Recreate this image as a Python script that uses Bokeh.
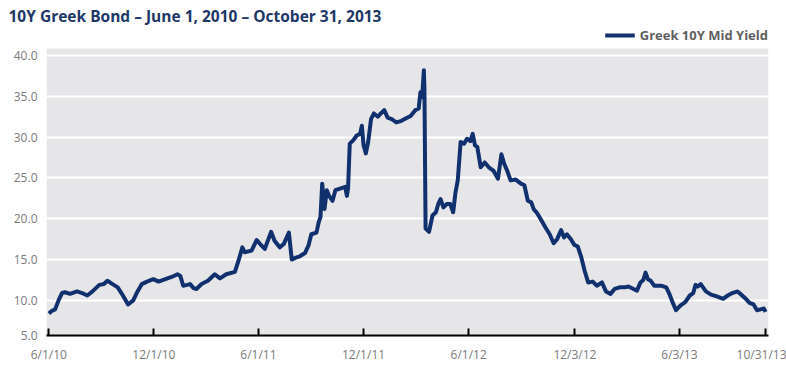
import pandas as pd
from bokeh.plotting import figure
from bokeh.models import (Range1d, FixedTicker, CustomJSTickFormatter, Legend, LegendItem,
                          BoxAnnotation)
from bokeh.embed import file_html
from bokeh.resources import INLINE

title_text = "10Y Greek Bond \u2013 June 1, 2010 \u2013 October 31, 2013"
series_name = "Greek 10Y Mid Yield"

dates = [
    "2010-06-01", "2010-06-06", "2010-06-12", "2010-06-18", "2010-06-24", "2010-06-29",
    "2010-07-08", "2010-07-20", "2010-07-29", "2010-08-07", "2010-08-16", "2010-08-28",
    "2010-09-05", "2010-09-11", "2010-09-20", "2010-09-29", "2010-10-08", "2010-10-17",
    "2010-10-26", "2010-11-01", "2010-11-10", "2010-11-19", "2010-11-30", "2010-12-09",
    "2010-12-21", "2011-01-02", "2011-01-11", "2011-01-16", "2011-01-21", "2011-01-28",
    "2011-02-02", "2011-02-08", "2011-02-13", "2011-02-22", "2011-03-05", "2011-03-17",
    "2011-03-26", "2011-04-06", "2011-04-21", "2011-04-27", "2011-05-04", "2011-05-08",
    "2011-05-20", "2011-05-29", "2011-06-04", "2011-06-12", "2011-06-23", "2011-06-29",
    "2011-07-08", "2011-07-15", "2011-07-24", "2011-07-29", "2011-08-04", "2011-08-12",
    "2011-08-21", "2011-08-27", "2011-09-01", "2011-09-10", "2011-09-14", "2011-09-17",
    "2011-09-20", "2011-09-24", "2011-09-28", "2011-10-02", "2011-10-08", "2011-10-13",
    "2011-10-21", "2011-10-30", "2011-11-02", "2011-11-04", "2011-11-07", "2011-11-13",
    "2011-11-19", "2011-11-25", "2011-11-28", "2011-12-01", "2011-12-05", "2011-12-09",
    "2011-12-14", "2011-12-19", "2011-12-26", "2011-12-31", "2012-01-06", "2012-01-12",
    "2012-01-19", "2012-01-27", "2012-02-05", "2012-02-13", "2012-02-21", "2012-02-29",
    "2012-03-06", "2012-03-09", "2012-03-12", "2012-03-15", "2012-03-16", "2012-03-18",
    "2012-03-24", "2012-03-30", "2012-04-05", "2012-04-09", "2012-04-13", "2012-04-18",
    "2012-04-24", "2012-04-30", "2012-05-05", "2012-05-09", "2012-05-13", "2012-05-18",
    "2012-05-24", "2012-05-29", "2012-06-04", "2012-06-08", "2012-06-12", "2012-06-16",
    "2012-06-22", "2012-06-29", "2012-07-06", "2012-07-14", "2012-07-22", "2012-07-28",
    "2012-08-02", "2012-08-07", "2012-08-13", "2012-08-22", "2012-08-31", "2012-09-06",
    "2012-09-12", "2012-09-18", "2012-09-22", "2012-09-28", "2012-10-04", "2012-10-13",
    "2012-10-20", "2012-10-27", "2012-11-02", "2012-11-09", "2012-11-14", "2012-11-19",
    "2012-11-26", "2012-12-02", "2012-12-08", "2012-12-14", "2012-12-20", "2012-12-26",
    "2013-01-03", "2013-01-10", "2013-01-19", "2013-01-26", "2013-02-03", "2013-02-10",
    "2013-02-19", "2013-02-28", "2013-03-06", "2013-03-15", "2013-03-21", "2013-03-27",
    "2013-04-01", "2013-04-05", "2013-04-09", "2013-04-14", "2013-04-20", "2013-05-02",
    "2013-05-11", "2013-05-17", "2013-05-23", "2013-05-28", "2013-06-05", "2013-06-13",
    "2013-06-21", "2013-06-27", "2013-07-01", "2013-07-05", "2013-07-10", "2013-07-19",
    "2013-07-28", "2013-08-07", "2013-08-18", "2013-08-26", "2013-09-03", "2013-09-12",
    "2013-09-17", "2013-09-25", "2013-10-03", "2013-10-10", "2013-10-16", "2013-10-22",
    "2013-10-28", "2013-10-31",
]

yields = [
    8.4, 8.7, 8.9, 10.0, 10.9, 11.0,
    10.8, 11.1, 10.9, 10.6, 11.1, 11.9,
    12.0, 12.4, 12.0, 11.6, 10.6, 9.5,
    10.0, 10.9, 12.0, 12.3, 12.6, 12.3,
    12.6, 12.9, 13.2, 13.0, 11.8, 11.9,
    12.0, 11.5, 11.4, 12.0, 12.4, 13.2,
    12.7, 13.2, 13.5, 14.8, 16.5, 15.9,
    16.1, 17.4, 16.9, 16.3, 18.4, 17.3,
    16.5, 16.9, 18.3, 15.0, 15.2, 15.4,
    15.8, 16.7, 18.1, 18.3, 19.6, 20.2,
    24.3, 21.2, 23.5, 22.8, 22.2, 23.5,
    23.7, 23.9, 22.8, 23.7, 29.2, 29.6,
    30.2, 30.4, 31.4, 29.0, 28.0, 29.4,
    32.2, 32.9, 32.5, 32.9, 33.3, 32.4,
    32.2, 31.8, 32.0, 32.3, 32.6, 33.3,
    33.5, 35.5, 34.9, 38.2, 35.9, 18.8,
    18.4, 20.4, 20.8, 21.8, 22.4, 21.4,
    21.8, 21.8, 20.8, 23.2, 24.7, 29.4,
    29.2, 29.8, 29.5, 30.4, 29.0, 28.8,
    26.3, 26.9, 26.3, 25.9, 24.9, 27.9,
    26.7, 25.9, 24.7, 24.8, 24.3, 24.1,
    22.2, 22.0, 21.2, 20.7, 20.0, 18.9,
    18.1, 17.0, 17.5, 18.6, 17.7, 18.1,
    17.5, 16.8, 16.6, 15.3, 13.6, 12.2,
    12.3, 11.8, 12.2, 11.1, 10.8, 11.4,
    11.6, 11.6, 11.7, 11.4, 11.2, 12.2,
    12.5, 13.4, 12.6, 12.4, 11.8, 11.8,
    11.6, 10.7, 9.6, 8.8, 9.4, 9.8,
    10.6, 10.9, 11.9, 11.7, 12.0, 11.1,
    10.7, 10.5, 10.2, 10.6, 10.9, 11.1,
    10.8, 10.3, 9.7, 9.5, 8.8, 8.9,
    9.0, 8.6,
]

x_tick_dates = ["2010-06-01", "2010-12-01", "2011-06-01", "2011-12-01",
                "2012-06-01", "2012-12-03", "2013-06-03", "2013-10-31"]
x_tick_labels = ["6/1/10", "12/1/10", "6/1/11", "12/1/11",
                 "6/1/12", "12/3/12", "6/3/13", "10/31/13"]
y_ticks = [5.7, 10, 15, 20, 25, 30, 35, 40]
y_tick_labels = ["5.0", "10.0", "15.0", "20.0", "25.0", "30.0", "35.0", "40.0"]

x_start, x_end = "2010-05-28", "2013-11-05"
y_start, y_plot_top, y_end = 5.7, 40.86, 43.55


def to_ms(s):
    return int((pd.Timestamp(s) - pd.Timestamp("1970-01-01")) // pd.Timedelta(milliseconds=1))


tick_ms = [to_ms(s) for s in x_tick_dates]
x = pd.to_datetime(dates)

NAVY = "#10306e"
FONT = "Open Sans"

p = figure(width=786, height=378, x_axis_type="datetime",
           output_backend="svg", toolbar_location=None,
           x_range=Range1d(pd.Timestamp(x_start), pd.Timestamp(x_end)),
           y_range=Range1d(y_start, y_end),
           min_border_left=46, min_border_right=18,
           min_border_top=26, min_border_bottom=43)

p.background_fill_color = "white"
p.border_fill_color = "white"
p.outline_line_color = None

# grey plotting area (below the legend strip)
p.add_layout(BoxAnnotation(bottom=y_start, top=y_plot_top, fill_color="#e6e6e8",
                           fill_alpha=1, line_color=None, level="image"))

p.title.text = title_text
p.title.text_font = FONT
p.title.text_font_size = "15.5px"
p.title.text_font_style = "bold"
p.title.text_color = "#1d3767"
p.title.align = "left"
p.title.offset = -38
p.title.standoff = 0

r = p.line(x, yields, line_color=NAVY, line_width=4, line_join="round")

pick_js = """
let best = 0, bd = Infinity;
for (let i = 0; i < tvals.length; i++) {
  const d = Math.abs(tvals[i] - tick);
  if (d < bd) { bd = d; best = i; }
}
return ttexts[best];
"""

xa = p.xaxis[0]
xa.ticker = FixedTicker(ticks=tick_ms)
xa.formatter = CustomJSTickFormatter(args=dict(tvals=tick_ms, ttexts=x_tick_labels), code=pick_js)
xa.axis_line_color = "black"
xa.axis_line_width = 2
xa.major_tick_line_color = "black"
xa.major_tick_line_width = 2
xa.major_tick_in = 7
xa.major_tick_out = 0
xa.minor_tick_line_color = None
xa.major_label_standoff = 10
xa.major_label_text_font = FONT
xa.major_label_text_font_size = "12px"
xa.major_label_text_color = "#7a7a7a"

ya = p.yaxis[0]
ya.ticker = FixedTicker(ticks=y_ticks)
ya.formatter = CustomJSTickFormatter(args=dict(tvals=y_ticks, ttexts=y_tick_labels), code=pick_js)
ya.axis_line_color = None
ya.major_tick_line_color = None
ya.minor_tick_line_color = None
ya.major_tick_in = 0
ya.major_tick_out = 0
ya.major_label_standoff = 9
ya.major_label_text_font = FONT
ya.major_label_text_font_size = "12px"
ya.major_label_text_color = "#7a7a7a"

p.xgrid.grid_line_color = None
p.ygrid.grid_line_color = "white"
p.ygrid.grid_line_width = 2

legend = Legend(items=[LegendItem(label=series_name, renderers=[r])],
                location="top_right", orientation="horizontal",
                background_fill_alpha=0, border_line_alpha=0,
                padding=0, margin=0, glyph_width=30, glyph_height=14,
                label_standoff=5, label_text_font=FONT,
                label_text_font_size="13px", label_text_font_style="bold",
                label_text_color="#5f5f5f")
p.add_layout(legend)

open("out.html", "w").write(file_html(p, INLINE))
